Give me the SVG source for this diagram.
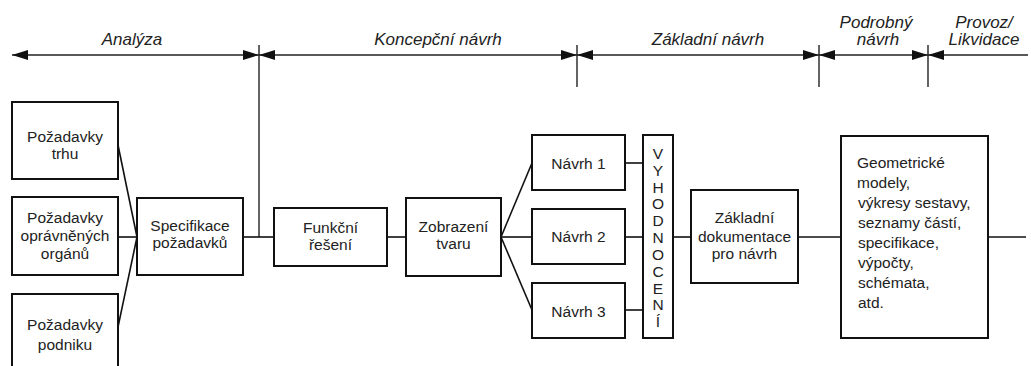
<svg xmlns="http://www.w3.org/2000/svg" width="1031" height="366" viewBox="0 0 1031 366">
<style>
.bg{fill:#ffffff}
.box{fill:#ffffff;stroke:#111;stroke-width:2}
.ln{fill:none;stroke:#111;stroke-width:1.6}
.ax{fill:none;stroke:#222;stroke-width:1.4}
.t{font-family:"Liberation Sans",Arial,sans-serif;font-size:15.5px;fill:#222;text-anchor:middle}
.tl{font-family:"Liberation Sans",Arial,sans-serif;font-size:15.5px;fill:#222;text-anchor:start}
.h{font-family:"Liberation Sans",Arial,sans-serif;font-size:17px;font-style:italic;fill:#222;text-anchor:middle}
</style>
<defs>
<marker id="ah" viewBox="0 0 16 10" refX="16" refY="5" markerWidth="16" markerHeight="10" orient="auto-start-reverse" markerUnits="userSpaceOnUse">
<path d="M0,0 L16,5 L0,10 z" fill="#111"/>
</marker>
</defs>
<rect class="bg" x="0" y="0" width="1031" height="366"/>

<g id="phases">
<text class="h" x="132" y="45">Analýza</text>
<text class="h" x="438" y="45">Koncepční návrh</text>
<text class="h" x="708" y="45">Základní návrh</text>
<text class="h" x="876" y="28">Podrobný</text>
<text class="h" x="878" y="45">návrh</text>
<text class="h" x="984" y="28">Provoz/</text>
<text class="h" x="984" y="45">Likvidace</text>
</g>

<g id="connectors">
<line class="ax" x1="12" y1="55" x2="259" y2="55" marker-start="url(#ah)" marker-end="url(#ah)"/>
<line class="ax" x1="259" y1="55" x2="577" y2="55" marker-start="url(#ah)" marker-end="url(#ah)"/>
<line class="ax" x1="577" y1="55" x2="819" y2="55" marker-start="url(#ah)" marker-end="url(#ah)"/>
<line class="ax" x1="819" y1="55" x2="928" y2="55" marker-start="url(#ah)" marker-end="url(#ah)"/>
<line class="ax" x1="928" y1="55" x2="1028" y2="55" marker-start="url(#ah)"/>
<line class="ax" x1="259" y1="45" x2="259" y2="237"/>
<line class="ax" x1="577" y1="45" x2="577" y2="87"/>
<line class="ax" x1="819" y1="45" x2="819" y2="87"/>
<line class="ax" x1="928" y1="45" x2="928" y2="87"/>

<line class="ln" x1="118" y1="145" x2="137" y2="237"/>
<line class="ln" x1="118" y1="237" x2="137" y2="237"/>
<line class="ln" x1="118" y1="327" x2="137" y2="237"/>
<line class="ln" x1="243" y1="237" x2="274" y2="237"/>
<line class="ln" x1="387" y1="237" x2="406" y2="237"/>
<line class="ln" x1="501" y1="237" x2="532" y2="163"/>
<line class="ln" x1="501" y1="237" x2="532" y2="237"/>
<line class="ln" x1="501" y1="237" x2="532" y2="310"/>
<line class="ln" x1="625" y1="163" x2="643" y2="163"/>
<line class="ln" x1="625" y1="237" x2="643" y2="237"/>
<line class="ln" x1="625" y1="310" x2="643" y2="310"/>
<line class="ln" x1="673" y1="237" x2="691" y2="237"/>
<line class="ln" x1="798" y1="237" x2="841" y2="237"/>
<line class="ln" x1="988" y1="237" x2="1026" y2="237"/>
</g>

<g id="pozadavky-trhu">
<rect class="box" x="12" y="102" width="106" height="77"/>
<text class="t" x="65" y="142">Požadavky</text>
<text class="t" x="65" y="159">trhu</text>
</g>
<g id="pozadavky-organu">
<rect class="box" x="12" y="197" width="106" height="78"/>
<text class="t" x="65" y="223">Požadavky</text>
<text class="t" x="65" y="241">oprávněných</text>
<text class="t" x="65" y="259">orgánů</text>
</g>
<g id="pozadavky-podniku">
<rect class="box" x="12" y="294" width="106" height="80"/>
<text class="t" x="65" y="330">Požadavky</text>
<text class="t" x="65" y="350">podniku</text>
</g>
<g id="specifikace">
<rect class="box" x="137" y="198" width="106" height="77"/>
<text class="t" x="190" y="231">Specifikace</text>
<text class="t" x="190" y="248">požadavků</text>
</g>
<g id="funkcni-reseni">
<rect class="box" x="274" y="208" width="113" height="58"/>
<text class="t" x="330.5" y="233">Funkční</text>
<text class="t" x="330.5" y="250">řešení</text>
</g>
<g id="zobrazeni-tvaru">
<rect class="box" x="406" y="198" width="95" height="78"/>
<text class="t" x="453.5" y="232">Zobrazení</text>
<text class="t" x="453.5" y="249">tvaru</text>
</g>
<g id="navrh-1">
<rect class="box" x="532" y="135" width="93" height="55"/>
<text class="t" x="578.5" y="169">Návrh 1</text>
</g>
<g id="navrh-2">
<rect class="box" x="532" y="209" width="93" height="55"/>
<text class="t" x="578.5" y="242">Návrh 2</text>
</g>
<g id="navrh-3">
<rect class="box" x="532" y="283" width="93" height="55"/>
<text class="t" x="578.5" y="317">Návrh 3</text>
</g>
<g id="vyhodnoceni">
<rect class="box" x="643" y="135" width="30" height="203"/>
<text class="t" x="658" y="159">V</text>
<text class="t" x="658" y="176">Y</text>
<text class="t" x="658" y="193">H</text>
<text class="t" x="658" y="209">O</text>
<text class="t" x="658" y="226">D</text>
<text class="t" x="658" y="243">N</text>
<text class="t" x="658" y="260">O</text>
<text class="t" x="658" y="277">C</text>
<text class="t" x="658" y="294">E</text>
<text class="t" x="658" y="310">N</text>
<text class="t" x="658" y="327">Í</text>
</g>
<g id="zakladni-dokumentace">
<rect class="box" x="691" y="190" width="107" height="93"/>
<text class="t" x="744.5" y="223">Základní</text>
<text class="t" x="744.5" y="242">dokumentace</text>
<text class="t" x="744.5" y="259">pro návrh</text>
</g>
<g id="podrobna-dokumentace">
<rect class="box" x="841" y="136" width="147" height="202"/>
<text class="tl" x="857" y="168">Geometrické</text>
<text class="tl" x="857" y="188">modely,</text>
<text class="tl" x="858" y="208">výkresy sestavy,</text>
<text class="tl" x="858" y="228">seznamy částí,</text>
<text class="tl" x="858" y="248">specifikace,</text>
<text class="tl" x="858" y="268">výpočty,</text>
<text class="tl" x="858" y="288">schémata,</text>
<text class="tl" x="858" y="308">atd.</text>
</g>
</svg>
